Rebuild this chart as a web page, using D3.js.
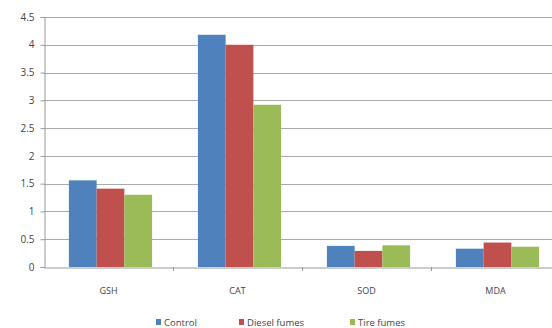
<!DOCTYPE html>
<html><head><meta charset="utf-8">
<script src="https://cdn.jsdelivr.net/npm/d3@7"></script>
<style>body{margin:0;background:#fff}svg{display:block}text{font-family:"Open Sans","DejaVu Sans",sans-serif;fill:#333}</style>
</head><body><svg id="c" width="552" height="328"></svg>
<script>
const categories = ["GSH","CAT","SOD","MDA"];
const seriesNames = ["Control","Diesel fumes","Tire fumes"];
const control = [1.56, 4.18, 0.38, 0.33];
const diesel = [1.41, 4.00, 0.29, 0.44];
const tire = [1.30, 2.92, 0.39, 0.365];
const yTicks = [0,0.5,1,1.5,2,2.5,3,3.5,4,4.5];
const yTickLabels = ["0","0.5","1","1.5","2","2.5","3","3.5","4","4.5"];
const colors = ["#4F81BD","#C0504D","#9BBB59"];

(function(){
const series = [control, diesel, tire];
const svg = d3.select("#c");
const mLeft = 44, mRight = 560, mTop = 17, mBottom = 267;
const x = d3.scaleBand().domain(categories).range([mLeft, mRight]).paddingInner(0).paddingOuter(0);
const y = d3.scaleLinear().domain([0,4.5]).range([mBottom, mTop]);
const groupW = x.bandwidth()*0.645;
const xs = d3.scaleBand().domain(seriesNames).range([0, groupW]).padding(0);

svg.append("g").selectAll("line").data(yTicks.slice(1)).join("line")
  .attr("x1", mLeft).attr("x2", mRight).attr("y1", d=>Math.round(y(d))+0.5).attr("y2", d=>Math.round(y(d))+0.5)
  .attr("stroke", "#aaaaaa").attr("stroke-width", 1.2);

const yAxis = d3.axisLeft(y).tickValues(yTicks).tickFormat((d,i)=>yTickLabels[i]).tickSize(4).tickPadding(6);
const ya = svg.append("g").attr("transform", `translate(${mLeft+0.5},0)`).call(yAxis);
ya.select(".domain").attr("stroke", "#999");
ya.selectAll(".tick line").attr("stroke", "#999");
ya.selectAll(".tick text").attr("font-size", 10).style("fill","#444");

series.forEach((vals, si) => {
  svg.append("g").selectAll("rect").data(categories).join("rect")
    .attr("x", c => x(c) + (x.bandwidth()-groupW)/2 + 2 + xs(seriesNames[si]))
    .attr("width", xs.bandwidth())
    .attr("y", (c,i) => y(vals[i]))
    .attr("height", (c,i) => mBottom - y(vals[i]))
    .attr("fill", colors[si]);
});

const xAxis = d3.axisBottom(x).tickSize(0).tickPadding(20);
const xa = svg.append("g").attr("transform", `translate(0,${mBottom+0.5})`).call(xAxis);
xa.select(".domain").attr("stroke", "#999");
xa.selectAll(".tick text").attr("font-size", 9).style("fill","#444");
svg.append("g").selectAll("line").data(categories.slice(1)).join("line")
  .attr("x1", c=>Math.round(x(c))+0.5).attr("x2", c=>Math.round(x(c))+0.5)
  .attr("y1", mBottom).attr("y2", mBottom+4).attr("stroke", "#999");

const legendX = [156, 239, 350];
const lg = svg.append("g");
seriesNames.forEach((n,i)=>{
  lg.append("rect").attr("x", legendX[i]).attr("y", 319).attr("width", 5).attr("height", 6).attr("fill", colors[i]);
  lg.append("text").attr("x", legendX[i]+8).attr("y", 326).attr("font-size", 9.5).style("fill","#444").text(n);
});
})();
</script></body></html>
